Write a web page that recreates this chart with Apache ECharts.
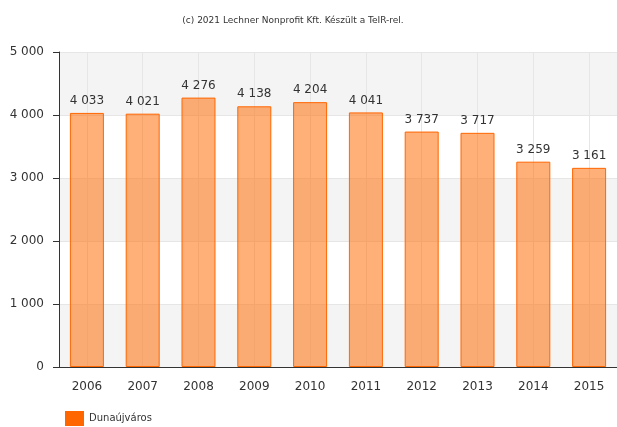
<!DOCTYPE html>
<html>
<head>
<meta charset="utf-8">
<script src="https://cdn.jsdelivr.net/npm/echarts@6/dist/echarts.min.js"></script>
<style>
    html, body { margin: 0; padding: 0; background: #fff; }
    #chart { width: 617px; height: 427px; }
</style>
</head>
<body>
<div id="chart"></div>
<script>
"use strict";
const years = ['2006', '2007', '2008', '2009', '2010', '2011', '2012', '2013', '2014', '2015'];
const values = [4033, 4021, 4276, 4138, 4204, 4041, 3737, 3717, 3259, 3161];
const seriesName = 'Dunaújváros';
const yTicks = [0, 1000, 2000, 3000, 4000, 5000];

(() => {
    let chart = echarts.init(document.getElementById('chart'));
    //szóközös ezres elválasztó
    let fmt = v => String(v).replace(/\B(?=(\d{3})+(?!\d))/g, ' ');
    let font = 'DejaVu Sans';
    chart.setOption({
        animation: false,
        title: {
            text: '(c) 2021 Lechner Nonprofit Kft. Készült a TeIR-rel.',
            left: 288,
            textAlign: 'center',
            top: 11,
            textStyle: { fontSize: 9, fontWeight: 'normal', color: '#333', fontFamily: font }
        },
        legend: {
            data: [seriesName],
            left: 60,
            top: 406,
            padding: 5,
            itemWidth: 19,
            itemHeight: 15,
            itemGap: 4,
            icon: 'rect',
            itemStyle: { color: '#ff6600', borderWidth: 0 },
            textStyle: { fontSize: 10, color: '#333', fontFamily: font }
        },
        grid: { left: 59, top: 52, width: 561, height: 315 },
        xAxis: {
            type: 'category',
            data: years,
            axisLine: { lineStyle: { color: '#333' } },
            axisTick: { alignWithLabel: true, length: 5, lineStyle: { color: '#333' } },
            axisLabel: { fontSize: 12, color: '#333', fontFamily: font, margin: 14 },
            splitLine: { show: true, alignWithLabel: true, lineStyle: { color: '#e6e6e6' } }
        },
        yAxis: {
            type: 'value',
            min: yTicks[0],
            max: yTicks[yTicks.length - 1],
            interval: 1000,
            axisLine: { show: true, lineStyle: { color: '#333' } },
            axisTick: { show: true, length: 6, lineStyle: { color: '#333' } },
            axisLabel: { fontSize: 12, color: '#333', fontFamily: font, margin: 15, formatter: fmt },
            splitLine: { lineStyle: { color: '#e6e6e6' } },
            splitArea: { show: true, areaStyle: { color: ['#f4f4f4', '#ffffff'] } }
        },
        series: [{
            name: seriesName,
            type: 'bar',
            data: values,
            barWidth: 34,
            itemStyle: {
                color: 'rgba(255,110,10,0.55)',
                borderColor: '#ff6600',
                borderWidth: 1
            },
            label: {
                show: true,
                position: 'top',
                distance: 6,
                fontSize: 12,
                color: '#333',
                fontFamily: font,
                formatter: p => fmt(p.value)
            }
        }]
    });
})();
</script>
</body>
</html>
